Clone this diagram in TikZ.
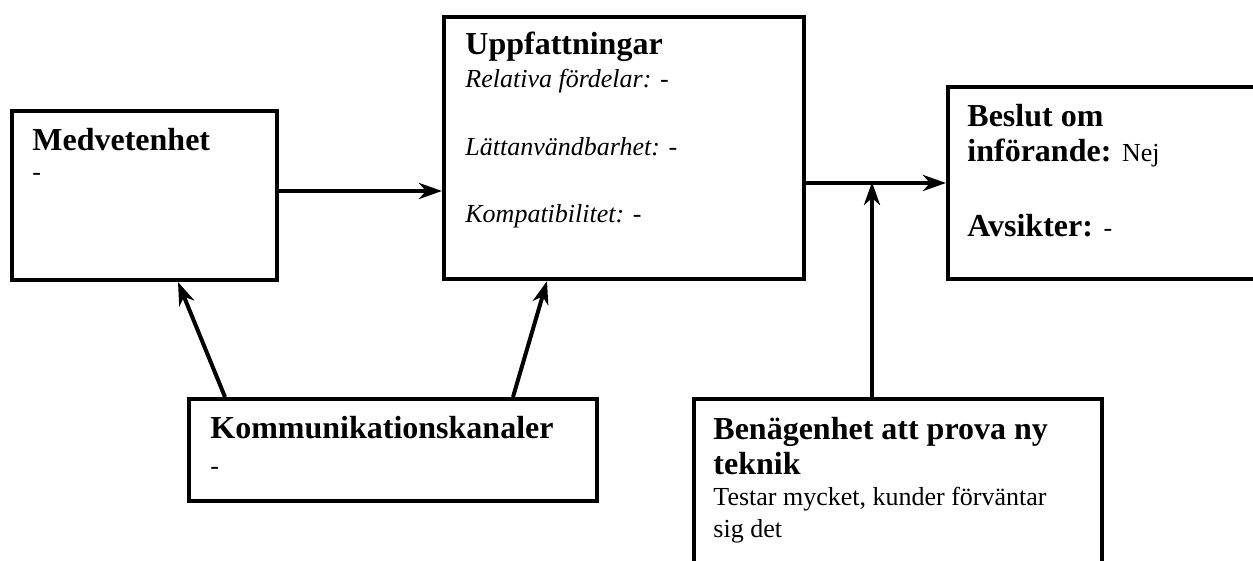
\documentclass[tikz,border=0pt]{standalone}
\usepackage{fontspec}
\setmainfont{Liberation Serif}
\usetikzlibrary{arrows.meta, positioning}

\newcommand{\bodysize}{\fontsize{13}{15}\selectfont}
\tikzset{
	box/.style={draw, line width=2pt, inner sep=0pt, anchor=north west},
	head/.style={font=\fontsize{16}{19}\selectfont\bfseries, anchor=base west, inner sep=0pt},
	body/.style={font=\bodysize, anchor=base west, inner sep=0pt},
	conn/.style={line width=2pt, -{Stealth[length=11.5pt, width=8pt, inset=3.5pt]}}
}

\begin{document}
\begin{tikzpicture}[x=0.5pt, y=-0.5pt]
		\useasboundingbox (0,0) rectangle (1253,561);
		\clip (0,0) rectangle (1253,561);
		% boxes
		\foreach \x/\y/\w/\h/\name in {
			10/109/132.5/84.5/medv,
			442/15/180/131/upp,
			946/85/172/96/besl,
			187/397/204/51/komm,
			692/397/204/101.5/ben}{
		 	\node[box, minimum width=\w pt, minimum height=\h pt] (\name) at (\x,\y) {};
		 }
		% headings
		\foreach \x/\y/\name/\txt in {
			32/151/medv-h/Medvetenhet,
			465/55/upp-h/Uppfattningar,
			967/127/besl-h1/Beslut om,
			210/438/komm-h/Kommunikationskanaler,
			713/439/ben-h1/Benägenhet att prova ny,
			713/474/ben-h2/teknik
		 }{
		 	\node[head] (\name) at (\x,\y) {\txt};
		 }
		 \node[head] (besl-h2) at (967,162) {införande: {\mdseries\bodysize Nej}};
		 \node[head] (besl-h3) at (967,237) {Avsikter: {\mdseries\bodysize -}};
		% body lines
		\foreach \x/\y/\name/\txt in {
			32/181/medv-b/-,
			210/474/komm-b/-,
			713/505/ben-b1/{Testar mycket, kunder förväntar},
			713/537/ben-b2/{sig det}
		 }{
		 	\node[body] (\name) at (\x,\y) {\txt};
		 }
		\foreach \y/\name/\txt in {
			88/upp-b1/Relativa fördelar: -,
			156/upp-b2/Lättanvändbarhet: -,
			223/upp-b3/Kompatibilitet: -
		 }{
		 	\node[body, font=\bodysize\itshape] (\name) at (465,\y) {\txt};
		 }
		% connectors
		 \coordinate (join) at (872,182);
		 \draw[conn] ([yshift=2.25pt]medv.east) -- ([yshift=2.25pt]medv.east -| upp.west);
		 \draw[conn] (upp.east |- besl.west) -- (besl.west);
		 \draw[conn] (ben.north -| join) -- (join);
		 \draw[conn] ([xshift=19pt]komm.north west) -- ([xshift=84pt]medv.south west);
		 \draw[conn] ([xshift=163pt]komm.north west) -- ([xshift=52.5pt]upp.south west);
\end{tikzpicture}
\end{document}
